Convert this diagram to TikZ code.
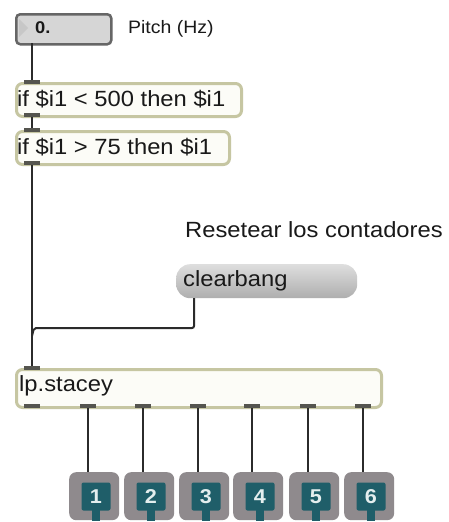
\documentclass[tikz,border=0pt]{standalone}
\usepackage{fontspec}
\setmainfont{Liberation Sans}[FakeStretch=1.08]
\usetikzlibrary{calc}
\definecolor{cordcol}{HTML}{2B2B2B}
\definecolor{objedge}{HTML}{C6C6A2}
\definecolor{objfill}{HTML}{FCFCF7}
\definecolor{portcol}{HTML}{55554F}
\definecolor{numfill}{HTML}{D6D6D6}
\definecolor{numedge}{HTML}{666666}
\definecolor{msgtop}{HTML}{DEDEDE}
\definecolor{msgbot}{HTML}{AEAEAE}
\definecolor{outgray}{HTML}{8F8A8D}
\definecolor{outteal}{HTML}{1F5E69}
\definecolor{outtext}{HTML}{E4EEEE}
\begin{document}
\begin{tikzpicture}[x=1pt,y=-1pt,
  every node/.style={text=black!90},
  bigtxt/.style={font=\fontsize{22}{24}\selectfont, inner sep=0pt, anchor=west},
  smalltxt/.style={font=\fontsize{18}{20}\selectfont, inner sep=0pt, anchor=west},
  objbox/.style={draw=objedge, line width=3pt, fill=objfill, rounded corners=6pt,
    anchor=north west, minimum height=33pt, minimum width=#1, inner sep=0pt},
  port/.style={fill=portcol, minimum width=16pt, minimum height=4pt, inner sep=0pt},
  cord/.style={draw=cordcol, line width=2pt},
  outbox/.style={fill=outgray, rounded corners=7pt, minimum width=50pt, minimum height=48pt,
    inner sep=0pt, anchor=north west},
  outcore/.style={fill=outteal, rounded corners=2pt, minimum width=29pt, minimum height=28pt,
    inner sep=0pt, text=outtext, font=\fontsize{20}{22}\selectfont\bfseries},
  outstem/.style={fill=outteal, minimum width=8pt, minimum height=12pt, inner sep=0pt, anchor=north},
]
\useasboundingbox[fill=white] (0,0) rectangle (449,522);

% number box with its label
\node[draw=numedge, line width=2.5pt, fill=numfill, rounded corners=4pt, anchor=north west,
  minimum width=95pt, minimum height=30pt, inner sep=0pt] (num) at (15,13) {};
\fill[black!22] (19,19) -- (19,37) -- (28,28) -- cycle;
\node[smalltxt, font=\fontsize{17}{18}\selectfont\bfseries] (numval) at (35,28) {0.};
\node[smalltxt] (pitch) at (128,29) {Pitch (Hz)};
\coordinate (num-out) at (32,43);

% the two range filters
\node[objbox=225pt] (if1) at (15,82) {};
\node[bigtxt] (if1-t) at (17,99) {if \$i1 < 500 then \$i1};
\node[port] (if1-in) at (32,82) {};
\node[port] (if1-out) at (32,115) {};

\node[objbox=213pt] (if2) at (15,130) {};
\node[bigtxt] (if2-t) at (17,147) {if \$i1 > 75 then \$i1};
\node[port] (if2-in) at (32,130) {};
\node[port] (if2-out) at (32,163) {};

% reset message
\node[bigtxt] (reset) at (185,230) {Resetear los contadores};
\node[rounded corners=14pt, top color=msgtop, bottom color=msgbot, anchor=north west,
  minimum width=181pt, minimum height=34pt, inner sep=0pt] (cb) at (176,264) {};
\node[bigtxt] (cb-t) at (183,281) {clearbang};
\coordinate (cb-out) at (194,298);

% main object
\node[objbox=365pt, minimum height=38pt] (st) at (15,368) {};
\node[bigtxt] (st-t) at (19,386) {lp.stacey};
\node[port] (st-in) at (32,368) {};
\foreach \k/\x in {0/32,1/88,2/143,3/198,4/252,5/308,6/363}
  \node[port] (st-out\k) at (\x,406) {};

% patch cords
\draw[cord] (num-out) -- (if1-in);
\draw[cord] (if1-out) -- (if2-in);
\draw[cord] (if2-out) -- (st-in);
\draw[cord, rounded corners=2pt] (cb-out) -- (194,328) -- (34,328) -- (32,336);

% outlet objects
\foreach \k/\l in {1/69,2/124,3/179,4/233,5/289,6/344}{
  \node[outbox] (o\k) at (\l,472) {};
  \node[outstem] (o\k-stem) at (\l+27,509) {};
  \node[outcore] (o\k-core) at (\l+27,496.5) {\k};
  \draw[cord] (st-out\k) -- (st-out\k |- o\k.north);
}
\end{tikzpicture}
\end{document}
